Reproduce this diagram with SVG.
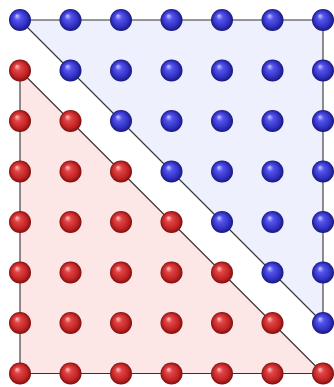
<svg xmlns="http://www.w3.org/2000/svg" xmlns:xlink="http://www.w3.org/1999/xlink" width="334" height="387" viewBox="0 0 334 387">
<style>
.edge{fill:none;stroke:#333;stroke-width:1.1;stroke-linejoin:round}
.blue{fill:url(#gb)}
.red{fill:url(#gr)}
</style>
<defs>
<radialGradient id="gb" cx="0.5" cy="0.5" r="0.5" fx="0.35" fy="0.3">
<stop offset="0" stop-color="#c8c8ff"/>
<stop offset="0.3" stop-color="#5555ee"/>
<stop offset="0.75" stop-color="#2f2fc0"/>
<stop offset="1" stop-color="#18187a"/>
</radialGradient>
<radialGradient id="gr" cx="0.5" cy="0.5" r="0.5" fx="0.35" fy="0.3">
<stop offset="0" stop-color="#ffc0c0"/>
<stop offset="0.3" stop-color="#e04545"/>
<stop offset="0.75" stop-color="#c02222"/>
<stop offset="1" stop-color="#7a1010"/>
</radialGradient>
<circle id="ball" r="11"/>
</defs>
<g id="connectors">
<polygon points="20,20 323,20 323,323" fill="#eef0fd" class="edge" style="fill:#eef0fd"/>
<polygon points="20,70.5 20,373.5 323,373.5" class="edge" style="fill:#fde6e6"/>
</g>
<g id="blue-nodes" class="blue">
<g id="b0-0"><use xlink:href="#ball" x="20" y="20"/></g>
<g id="b0-1"><use xlink:href="#ball" x="70.5" y="20"/></g>
<g id="b0-2"><use xlink:href="#ball" x="121" y="20"/></g>
<g id="b0-3"><use xlink:href="#ball" x="171.5" y="20"/></g>
<g id="b0-4"><use xlink:href="#ball" x="222" y="20"/></g>
<g id="b0-5"><use xlink:href="#ball" x="272.5" y="20"/></g>
<g id="b0-6"><use xlink:href="#ball" x="323" y="20"/></g>
<g id="b1-1"><use xlink:href="#ball" x="70.5" y="70.5"/></g>
<g id="b1-2"><use xlink:href="#ball" x="121" y="70.5"/></g>
<g id="b1-3"><use xlink:href="#ball" x="171.5" y="70.5"/></g>
<g id="b1-4"><use xlink:href="#ball" x="222" y="70.5"/></g>
<g id="b1-5"><use xlink:href="#ball" x="272.5" y="70.5"/></g>
<g id="b1-6"><use xlink:href="#ball" x="323" y="70.5"/></g>
<g id="b2-2"><use xlink:href="#ball" x="121" y="121"/></g>
<g id="b2-3"><use xlink:href="#ball" x="171.5" y="121"/></g>
<g id="b2-4"><use xlink:href="#ball" x="222" y="121"/></g>
<g id="b2-5"><use xlink:href="#ball" x="272.5" y="121"/></g>
<g id="b2-6"><use xlink:href="#ball" x="323" y="121"/></g>
<g id="b3-3"><use xlink:href="#ball" x="171.5" y="171.5"/></g>
<g id="b3-4"><use xlink:href="#ball" x="222" y="171.5"/></g>
<g id="b3-5"><use xlink:href="#ball" x="272.5" y="171.5"/></g>
<g id="b3-6"><use xlink:href="#ball" x="323" y="171.5"/></g>
<g id="b4-4"><use xlink:href="#ball" x="222" y="222"/></g>
<g id="b4-5"><use xlink:href="#ball" x="272.5" y="222"/></g>
<g id="b4-6"><use xlink:href="#ball" x="323" y="222"/></g>
<g id="b5-5"><use xlink:href="#ball" x="272.5" y="272.5"/></g>
<g id="b5-6"><use xlink:href="#ball" x="323" y="272.5"/></g>
<g id="b6-6"><use xlink:href="#ball" x="323" y="323"/></g>
</g>
<g id="red-nodes" class="red">
<g id="r1-0"><use xlink:href="#ball" x="20" y="70.5"/></g>
<g id="r2-0"><use xlink:href="#ball" x="20" y="121"/></g>
<g id="r2-1"><use xlink:href="#ball" x="70.5" y="121"/></g>
<g id="r3-0"><use xlink:href="#ball" x="20" y="171.5"/></g>
<g id="r3-1"><use xlink:href="#ball" x="70.5" y="171.5"/></g>
<g id="r3-2"><use xlink:href="#ball" x="121" y="171.5"/></g>
<g id="r4-0"><use xlink:href="#ball" x="20" y="222"/></g>
<g id="r4-1"><use xlink:href="#ball" x="70.5" y="222"/></g>
<g id="r4-2"><use xlink:href="#ball" x="121" y="222"/></g>
<g id="r4-3"><use xlink:href="#ball" x="171.5" y="222"/></g>
<g id="r5-0"><use xlink:href="#ball" x="20" y="272.5"/></g>
<g id="r5-1"><use xlink:href="#ball" x="70.5" y="272.5"/></g>
<g id="r5-2"><use xlink:href="#ball" x="121" y="272.5"/></g>
<g id="r5-3"><use xlink:href="#ball" x="171.5" y="272.5"/></g>
<g id="r5-4"><use xlink:href="#ball" x="222" y="272.5"/></g>
<g id="r6-0"><use xlink:href="#ball" x="20" y="323"/></g>
<g id="r6-1"><use xlink:href="#ball" x="70.5" y="323"/></g>
<g id="r6-2"><use xlink:href="#ball" x="121" y="323"/></g>
<g id="r6-3"><use xlink:href="#ball" x="171.5" y="323"/></g>
<g id="r6-4"><use xlink:href="#ball" x="222" y="323"/></g>
<g id="r6-5"><use xlink:href="#ball" x="272.5" y="323"/></g>
<g id="r7-0"><use xlink:href="#ball" x="20" y="373.5"/></g>
<g id="r7-1"><use xlink:href="#ball" x="70.5" y="373.5"/></g>
<g id="r7-2"><use xlink:href="#ball" x="121" y="373.5"/></g>
<g id="r7-3"><use xlink:href="#ball" x="171.5" y="373.5"/></g>
<g id="r7-4"><use xlink:href="#ball" x="222" y="373.5"/></g>
<g id="r7-5"><use xlink:href="#ball" x="272.5" y="373.5"/></g>
<g id="r7-6"><use xlink:href="#ball" x="323" y="373.5"/></g>
</g>
</svg>
